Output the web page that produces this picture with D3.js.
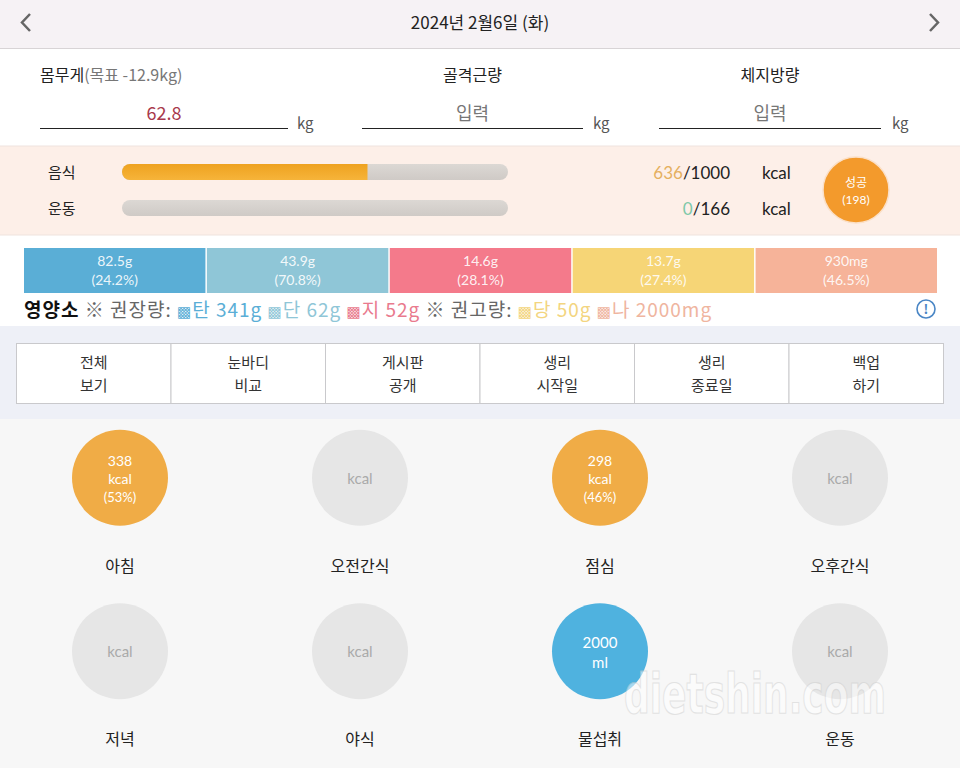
<!DOCTYPE html>
<html><head><meta charset="utf-8">
<script src="https://cdn.jsdelivr.net/npm/d3@7"></script>
<style>body{margin:0;background:#fff}svg{display:block;font-family:"Noto Sans CJK KR","Noto Sans",sans-serif}</style>
</head><body><div id="chart"></div>
<script>
const dateTitle = "2024년 2월6일 (화)";
const bodyLabels = ["몸무게", "골격근량", "체지방량"];
const bodyValues = ["62.8", "입력", "입력"];
const weightGoal = "(목표 -12.9kg)";
const calRows = ["음식", "운동"];
const calValues = [636, 0];
const calTargets = [1000, 166];
const successCount = 198;
const nutrients = ["탄", "단", "지", "당", "나"];
const nutrientValues = [82.5, 43.9, 14.6, 13.7, 930];
const nutrientUnits = ["g", "g", "g", "g", "mg"];
const nutrientPct = [24.2, 70.8, 28.1, 27.4, 46.5];
const nutrientRecommended = [341, 62, 52, 50, 2000];
const nutrientColors = ["#5aaed6", "#8fc6d7", "#f47a8b", "#f6d576", "#f6b399"];
const legendColors = ["#5aaed6", "#8fc6d7", "#e97a8e", "#f3d580", "#efb5a0"];
const buttons = [["전체","보기"],["눈바디","비교"],["게시판","공개"],["생리","시작일"],["생리","종료일"],["백업","하기"]];
const meals = ["아침","오전간식","점심","오후간식","저녁","야식","물섭취","운동"];
const mealKcal = [338, null, 298, null, null, null, null, null];
const mealPct = [53, null, 46, null, null, null, null, null];
const waterMl = 2000;
const watermark = "dietshin.com";

const W = 960, H = 768;
const LAT = "Lato, 'Open Sans', sans-serif";
const svg = d3.select("#chart").append("svg").attr("width", W).attr("height", H);
const defs = svg.append("defs");

// header
svg.append("rect").attr("x",0).attr("y",0).attr("width",W).attr("height",48).attr("fill","#f6f2f5");
svg.append("line").attr("x1",0).attr("x2",W).attr("y1",48.5).attr("y2",48.5).attr("stroke","#d8d4d6");
svg.append("text").attr("x",480).attr("y",29).attr("text-anchor","middle").attr("font-size",17).attr("fill","#222").text(dateTitle);
svg.append("path").attr("d","M30,14 L22,22.5 L30,31").attr("fill","none").attr("stroke","#666").attr("stroke-width",2.5);
svg.append("path").attr("d","M930,14 L938,22.5 L930,31").attr("fill","none").attr("stroke","#666").attr("stroke-width",2.5);

// body measurements
const bodyLines = [[40,288],[362,583],[659,881]];
const kgX = [297, 593, 892];
bodyLabels.forEach((l,i)=>{
  const t = svg.append("text").attr("y",81).attr("font-size",16).attr("fill","#222");
  if(i===0){ t.attr("x",40); t.append("tspan").text(l); t.append("tspan").attr("fill","#777").text(weightGoal); }
  else { t.attr("x",(bodyLines[i][0]+bodyLines[i][1])/2).attr("text-anchor","middle").text(l); }
  svg.append("text").attr("x",(bodyLines[i][0]+bodyLines[i][1])/2).attr("y",120).attr("text-anchor","middle")
    .attr("font-size",18).attr("fill", i===0?"#a8394c":"#777").text(bodyValues[i]);
  svg.append("line").attr("x1",bodyLines[i][0]).attr("x2",bodyLines[i][1]).attr("y1",128.5).attr("y2",128.5).attr("stroke","#222").attr("stroke-width",1);
  svg.append("text").attr("x",kgX[i]).attr("y",129).attr("font-size",15).attr("fill","#555").text("kg");
});

// calorie section
svg.append("rect").attr("x",0).attr("y",146).attr("width",W).attr("height",89).attr("fill","#fdefe8");
svg.append("line").attr("x1",0).attr("x2",W).attr("y1",146).attr("y2",146).attr("stroke","#efe3de");
svg.append("line").attr("x1",0).attr("x2",W).attr("y1",235).attr("y2",235).attr("stroke","#efe3de");
const g1 = defs.append("linearGradient").attr("id","og").attr("x1",0).attr("y1",0).attr("x2",0).attr("y2",1);
g1.append("stop").attr("offset","0").attr("stop-color","#eea21f");
g1.append("stop").attr("offset","1").attr("stop-color","#f6b43a");
const g2 = defs.append("linearGradient").attr("id","gg").attr("x1",0).attr("y1",0).attr("x2",0).attr("y2",1);
g2.append("stop").attr("offset","0").attr("stop-color","#dcd8d4");
g2.append("stop").attr("offset","1").attr("stop-color","#cfcac6");
const barY = [172, 208];
calRows.forEach((r,i)=>{
  const x = d3.scaleLinear().domain([0, calTargets[i]]).range([122, 508]);
  svg.append("text").attr("x",48).attr("y",barY[i]+6).attr("font-size",15).attr("fill","#222").text(r);
  svg.append("rect").attr("x",x(0)).attr("y",barY[i]-8).attr("width",x(calTargets[i])-x(0)).attr("height",16).attr("rx",8).attr("fill","url(#gg)");
  if(calValues[i]>0){
    const clipId = "clip"+i;
    defs.append("clipPath").attr("id",clipId).append("rect").attr("x",x(0)).attr("y",barY[i]-8).attr("width",x(calValues[i])-x(0)).attr("height",16);
    svg.append("rect").attr("clip-path",`url(#${clipId})`).attr("x",x(0)).attr("y",barY[i]-8).attr("width",x(calTargets[i])-x(0)).attr("height",16).attr("rx",8).attr("fill","url(#og)");
  }
  const t = svg.append("text").attr("x",730).attr("y",barY[i]+7).attr("text-anchor","end").attr("font-size",17).attr("font-family",LAT).attr("fill","#222");
  t.append("tspan").attr("fill", i===0?"#e5b060":"#7ec8a8").text(calValues[i]);
  t.append("tspan").text("/"+calTargets[i]);
  svg.append("text").attr("x",762).attr("y",barY[i]+7).attr("font-size",17).attr("font-family",LAT).attr("fill","#222").text("kcal");
});
svg.append("circle").attr("cx",856).attr("cy",190).attr("r",33).attr("fill","#f39a2c").attr("stroke","#fbe0c8").attr("stroke-width",1.5);
svg.append("text").attr("x",856).attr("y",187).attr("text-anchor","middle").attr("font-size",12).attr("fill","#fff").text("성공");
svg.append("text").attr("x",856).attr("y",204).attr("text-anchor","middle").attr("font-size",12).attr("font-family",LAT).attr("fill","#fff").text(`(${successCount})`);

// nutrient bars
const xb = d3.scaleBand().domain(nutrients).range([24, 937]).paddingInner(0.008);
const nb = svg.append("g");
nutrients.forEach((n,i)=>{
  nb.append("rect").attr("x",xb(n)).attr("y",248).attr("width",xb.bandwidth()).attr("height",45).attr("fill",nutrientColors[i]);
  const cx = xb(n)+xb.bandwidth()/2;
  nb.append("text").attr("x",cx).attr("y",266).attr("text-anchor","middle").attr("font-size",14).attr("font-family",LAT).attr("fill","#fff").attr("fill-opacity",0.9).text(nutrientValues[i]+nutrientUnits[i]);
  nb.append("text").attr("x",cx).attr("y",285).attr("text-anchor","middle").attr("font-size",14).attr("font-family",LAT).attr("fill","#fff").attr("fill-opacity",0.9).text(`(${nutrientPct[i]}%)`);
});
// legend
const lg = svg.append("text").attr("x",24).attr("y",317).attr("font-size",19).attr("fill","#333").attr("letter-spacing",1);
lg.append("tspan").attr("font-weight","bold").attr("fill","#111").text("영양소");
lg.append("tspan").attr("fill","#666").text(" ※ 권장량: ");
nutrients.forEach((n,i)=>{
  if(i===3) lg.append("tspan").attr("fill","#666").text("※ 권고량: ");
  lg.append("tspan").attr("fill",legendColors[i]).attr("font-size",15).attr("font-family","DejaVu Sans").text("▩");
  lg.append("tspan").attr("fill",legendColors[i]).text(n+" "+nutrientRecommended[i]+nutrientUnits[i]+" ");
});
svg.append("circle").attr("cx",926).attr("cy",309).attr("r",9).attr("fill","none").attr("stroke","#4a86c5").attr("stroke-width",1.6);
svg.append("text").attr("x",926).attr("y",314).attr("text-anchor","middle").attr("font-size",13).attr("font-weight","bold").attr("fill","#4a86c5").text("!");

// buttons section
svg.append("rect").attr("x",0).attr("y",326).attr("width",W).attr("height",93).attr("fill","#eef0f7");
const xbtn = d3.scaleBand().domain(d3.range(buttons.length)).range([16.5, 943.5]);
buttons.forEach((b,i)=>{
  svg.append("rect").attr("x",xbtn(i)).attr("y",343.5).attr("width",xbtn.bandwidth()).attr("height",60).attr("fill","#fff").attr("stroke","#c9c9cc");
  const cx = xbtn(i)+xbtn.bandwidth()/2;
  svg.append("text").attr("x",cx).attr("y",368).attr("text-anchor","middle").attr("font-size",15).attr("fill","#333").text(b[0]);
  svg.append("text").attr("x",cx).attr("y",391).attr("text-anchor","middle").attr("font-size",15).attr("fill","#333").text(b[1]);
});

// meals section
svg.append("rect").attr("x",0).attr("y",419).attr("width",W).attr("height",349).attr("fill","#f7f7f7");
const mx = d3.scaleBand().domain(d3.range(4)).range([0, 960]);
const my = d3.scaleBand().domain(d3.range(2)).range([391, 738]);
const circ = svg.append("g");
meals.forEach((m,i)=>{
  const cx = mx(i%4)+mx.bandwidth()/2;
  const cy = my(Math.floor(i/4))+my.bandwidth()/2;
  const isWater = m==="물섭취";
  const has = mealKcal[i]!=null;
  const fill = isWater ? "#4fb2df" : has ? "#f0ac46" : "#e6e6e6";
  circ.append("circle").attr("cx",cx).attr("cy",cy).attr("r",48).attr("fill",fill);
  if(isWater){
    circ.append("text").attr("x",cx).attr("y",cy-3).attr("text-anchor","middle").attr("font-size",15).attr("font-family",LAT).attr("fill","#fff").text(waterMl);
    circ.append("text").attr("x",cx).attr("y",cy+17).attr("text-anchor","middle").attr("font-size",15).attr("font-family",LAT).attr("fill","#fff").text("ml");
  } else if(has){
    circ.append("text").attr("x",cx).attr("y",cy-12).attr("text-anchor","middle").attr("font-size",14).attr("font-family",LAT).attr("fill","#fff").text(mealKcal[i]);
    circ.append("text").attr("x",cx).attr("y",cy+6).attr("text-anchor","middle").attr("font-size",14).attr("font-family",LAT).attr("fill","#fff").text("kcal");
    circ.append("text").attr("x",cx).attr("y",cy+24).attr("text-anchor","middle").attr("font-size",13).attr("font-family",LAT).attr("fill","#fff").text(`(${mealPct[i]}%)`);
  } else {
    circ.append("text").attr("x",cx).attr("y",cy+6).attr("text-anchor","middle").attr("font-size",15).attr("font-family",LAT).attr("fill","#aaa").text("kcal");
  }
  circ.append("text").attr("x",cx).attr("y",cy+94).attr("text-anchor","middle").attr("font-size",16).attr("fill","#222").text(m);
});
// watermark overlay
const WMF = "'DejaVu Sans Condensed','Liberation Sans Narrow',sans-serif";
svg.append("text").attr("transform","translate(624,713) scale(1,1.4)").attr("opacity",0.5).attr("x",0).attr("y",0)
  .attr("font-size",40).attr("font-weight","bold").attr("font-family",WMF)
  .attr("fill","#fff").attr("stroke","#cfcfcf").attr("stroke-width",0.8).text(watermark);
</script></body></html>
